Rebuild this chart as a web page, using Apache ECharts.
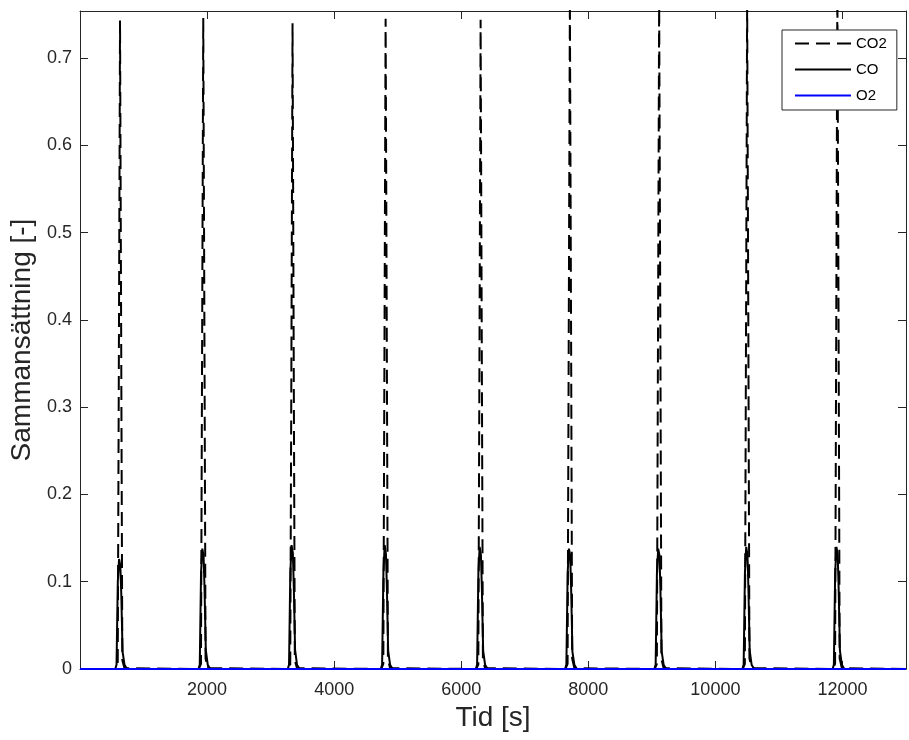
<!DOCTYPE html>
<html>
<head>
<meta charset="utf-8">
<script src="https://cdn.jsdelivr.net/npm/echarts@6/dist/echarts.min.js"></script>
<style>
html,body{margin:0;padding:0;background:#fff;}
#chart{width:909px;height:740px;}
</style>
</head>
<body>
<div id="chart"></div>
<script>
// ---- data (time in s, composition [-]) ----
var co2Data = [
  [0,0],[560,0],[594,0.005],[610,0.32],[630,0.743],[650,0.34],[666,0.01],[700,0.001],
  [1870,0],[1904,0.006],[1920,0.33],[1940,0.746],[1960,0.35],[1976,0.012],[2010,0.001],
  [3275,0],[3309,0.005],[3325,0.31],[3345,0.740],[3365,0.33],[3381,0.01],[3415,0.001],
  [4740,0],[4774,0.006],[4790,0.33],[4810,0.745],[4830,0.35],[4846,0.011],[4880,0.001],
  [6235,0],[6269,0.005],[6285,0.32],[6305,0.744],[6325,0.34],[6341,0.01],[6375,0.001],
  [7640,0],[7674,0.006],[7690,0.34],[7710,0.765],[7730,0.36],[7746,0.012],[7780,0.001],
  [9045,0],[9079,0.006],[9095,0.34],[9115,0.770],[9135,0.36],[9151,0.011],[9185,0.001],
  [10430,0],[10464,0.006],[10480,0.34],[10500,0.768],[10520,0.36],[10536,0.012],[10570,0.001],
  [11850,0],[11884,0.006],[11900,0.35],[11920,0.780],[11940,0.37],[11956,0.012],[11990,0.001],
  [13000,0]
];
var coData = [
  [0,0],[555,0],[575,0.005],[595,0.10],[615,0.126],[635,0.118],[650,0.085],[670,0.02],[700,0.005],[740,0],
  [1865,0],[1885,0.005],[1905,0.11],[1925,0.138],[1945,0.130],[1960,0.092],[1980,0.022],[2010,0.005],[2050,0],
  [3270,0],[3290,0.005],[3310,0.11],[3330,0.142],[3350,0.133],[3365,0.094],[3385,0.022],[3415,0.005],[3455,0],
  [4735,0],[4755,0.005],[4775,0.11],[4795,0.142],[4815,0.132],[4830,0.093],[4850,0.021],[4880,0.005],[4920,0],
  [6230,0],[6250,0.005],[6270,0.11],[6290,0.140],[6310,0.131],[6325,0.092],[6345,0.021],[6375,0.005],[6415,0],
  [7635,0],[7655,0.005],[7675,0.11],[7695,0.138],[7715,0.130],[7730,0.091],[7750,0.02],[7780,0.005],[7820,0],
  [9040,0],[9060,0.005],[9080,0.11],[9100,0.138],[9120,0.130],[9135,0.091],[9155,0.02],[9185,0.005],[9225,0],
  [10425,0],[10445,0.005],[10465,0.11],[10485,0.140],[10505,0.131],[10520,0.092],[10540,0.021],[10570,0.005],[10610,0],
  [11845,0],[11865,0.005],[11885,0.11],[11905,0.140],[11925,0.131],[11940,0.092],[11960,0.021],[11990,0.005],[12030,0],
  [13000,0]
];
var o2Data = [[0,0],[3000,0],[6000,0],[9000,0],[13000,0]];
var seriesNames = ['CO2','CO','O2'];
var xTickLabels = [2000,4000,6000,8000,10000,12000];
var yTickLabels = ['0','0.1','0.2','0.3','0.4','0.5','0.6','0.7'];

var font = 'Liberation Sans, Arial, Helvetica, sans-serif';
var axisColor = '#262626';

function xFmt(v){ return xTickLabels.indexOf(v) >= 0 ? String(v) : ''; }
function yFmt(v){
  var s = String(Math.round(v*10)/10);
  return (Math.abs(v*10 - Math.round(v*10)) < 1e-6 && yTickLabels.indexOf(s) >= 0) ? s : '';
}

var chart = echarts.init(document.getElementById('chart'), null, {renderer:'canvas'});
var baseAxis = {
  axisLine:{show:true, onZero:false, lineStyle:{color:axisColor, width:1}},
  axisTick:{show:true, inside:true, length:8, lineStyle:{color:axisColor, width:1}},
  splitLine:{show:false}
};
chart.setOption({
  animation:false,
  backgroundColor:'#ffffff',
  textStyle:{fontFamily:font},
  grid:{left:80, top:11, width:834, height:658, containLabel:false},
  legend:{
    data:seriesNames,
    orient:'vertical',
    left:782, top:30,
    itemWidth:56, itemHeight:14, itemGap:11,
    padding:[6,10,7,12],
    borderColor:axisColor, borderWidth:1, backgroundColor:'#ffffff',
    itemStyle:{opacity:0},
    textStyle:{fontSize:15, color:'#000', fontFamily:font}
  },
  xAxis:[
    Object.assign({}, baseAxis, {
      type:'value', position:'bottom', min:0, max:13000, interval:2000,
      axisLabel:{show:true, formatter:xFmt, fontSize:18, color:axisColor, margin:12, fontFamily:font},
      name:'Tid [s]', nameLocation:'middle', nameGap:34,
      nameTextStyle:{fontSize:28, color:axisColor, fontFamily:font}
    }),
    Object.assign({}, baseAxis, {
      type:'value', position:'top', min:0, max:13000, interval:2000,
      axisLabel:{show:false}
    })
  ],
  yAxis:[
    Object.assign({}, baseAxis, {
      type:'value', position:'left', min:0, max:0.754, interval:0.1,
      axisLabel:{show:true, formatter:yFmt, fontSize:18, color:axisColor, margin:8, fontFamily:font},
      name:'Sammansättning [-]', nameLocation:'middle', nameGap:40,
      nameTextStyle:{fontSize:28, color:axisColor, fontFamily:font}
    }),
    Object.assign({}, baseAxis, {
      type:'value', position:'right', min:0, max:0.754, interval:0.1,
      axisLabel:{show:false}
    })
  ],
  series:[
    {name:seriesNames[0], type:'line', data:co2Data, symbol:'none', xAxisIndex:0, yAxisIndex:0,
     lineStyle:{color:'#000000', width:2, type:[14,7]}, itemStyle:{color:'#000000'}, clip:true, z:3},
    {name:seriesNames[1], type:'line', data:coData, symbol:'none', xAxisIndex:0, yAxisIndex:0,
     lineStyle:{color:'#000000', width:2, type:'solid'}, itemStyle:{color:'#000000'}, clip:true, z:4},
    {name:seriesNames[2], type:'line', data:o2Data, symbol:'none', xAxisIndex:0, yAxisIndex:0,
     lineStyle:{color:'#0000ff', width:2, type:'solid'}, itemStyle:{color:'#0000ff'}, clip:true, z:5}
  ]
});
</script>
</body>
</html>
